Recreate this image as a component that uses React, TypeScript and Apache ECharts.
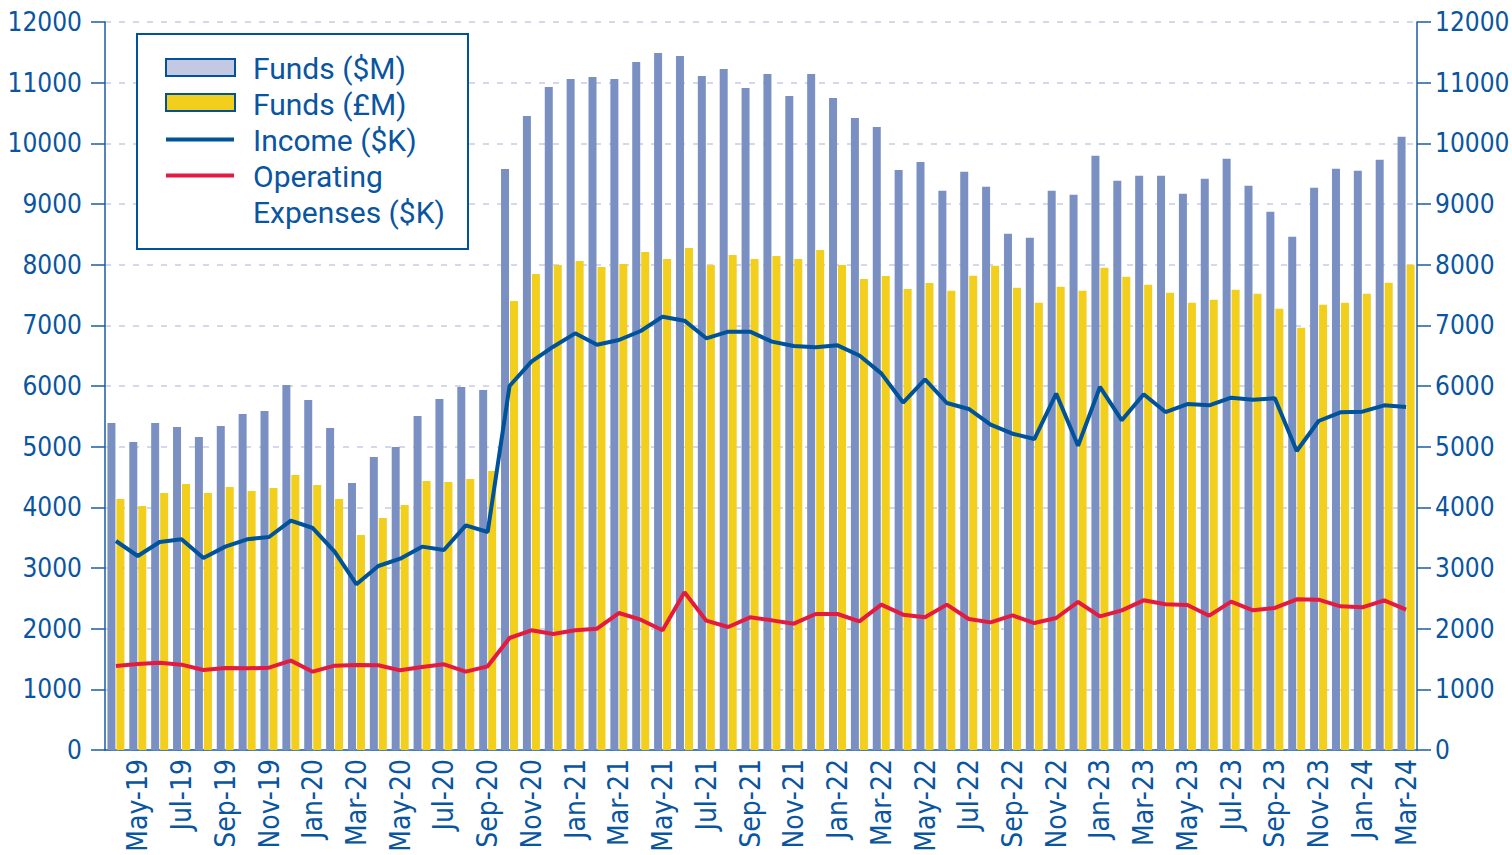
import React, { useEffect, useRef } from "react";
import * as echarts from "echarts";

const months = [
  "Apr-19","May-19","Jun-19","Jul-19","Aug-19","Sep-19","Oct-19","Nov-19","Dec-19",
  "Jan-20","Feb-20","Mar-20","Apr-20","May-20","Jun-20","Jul-20","Aug-20","Sep-20","Oct-20","Nov-20","Dec-20",
  "Jan-21","Feb-21","Mar-21","Apr-21","May-21","Jun-21","Jul-21","Aug-21","Sep-21","Oct-21","Nov-21","Dec-21",
  "Jan-22","Feb-22","Mar-22","Apr-22","May-22","Jun-22","Jul-22","Aug-22","Sep-22","Oct-22","Nov-22","Dec-22",
  "Jan-23","Feb-23","Mar-23","Apr-23","May-23","Jun-23","Jul-23","Aug-23","Sep-23","Oct-23","Nov-23","Dec-23",
  "Jan-24","Feb-24","Mar-24",
];

const fundsUSD = [
  5390, 5077, 5390, 5324, 5159, 5341, 5538, 5588, 6016,
  5769, 5308, 4401, 4830, 4995, 5505, 5786, 5984, 5934, 9577, 10451, 10929,
  11060, 11093, 11060, 11341, 11489, 11440, 11110, 11225, 10912, 11143, 10780, 11143,
  10747, 10418, 10269, 9560, 9692, 9220, 9533, 9286, 8511, 8445, 9220, 9154,
  9797, 9385, 9467, 9467, 9170, 9418, 9747, 9302, 8874, 8462, 9269, 9582,
  9549, 9731, 10110,
];

const fundsGBP = [
  4137, 4022, 4236, 4385, 4236, 4335, 4269, 4319, 4533,
  4368, 4137, 3544, 3824, 4038, 4434, 4418, 4467, 4599, 7401, 7846, 7995,
  8060, 7962, 8011, 8209, 8093, 8275, 7995, 8159, 8093, 8143, 8093, 8242,
  7995, 7764, 7813, 7599, 7698, 7571, 7819, 7984, 7621, 7374, 7637, 7571,
  7951, 7802, 7670, 7538, 7374, 7423, 7588, 7522, 7275, 6962, 7341, 7374,
  7522, 7703, 8000,
];

const income = [
  3445, 3198, 3429, 3473, 3165, 3352, 3473, 3511, 3780,
  3659, 3269, 2731, 3033, 3154, 3352, 3297, 3703, 3593, 6000, 6401, 6648,
  6868, 6681, 6758, 6907, 7143, 7077, 6786, 6896, 6896, 6731, 6659, 6637,
  6670, 6503, 6208, 5727, 6109, 5720, 5621, 5363, 5214, 5126, 5874, 5016,
  5984, 5434, 5863, 5571, 5703, 5681, 5808, 5775, 5797, 4929, 5423, 5566,
  5577, 5681, 5654,
];

const expenses = [
  1385, 1418, 1440, 1407, 1319, 1352, 1346, 1357, 1473,
  1291, 1390, 1401, 1396, 1313, 1368, 1412, 1291, 1379, 1846, 1973, 1912,
  1973, 2000, 2258, 2148, 1973, 2599, 2132, 2027, 2187, 2137, 2082, 2242,
  2242, 2121, 2396, 2231, 2187, 2396, 2159, 2104, 2220, 2093, 2176, 2440,
  2203, 2302, 2467, 2401, 2390, 2214, 2445, 2302, 2341, 2484, 2478, 2368,
  2352, 2467, 2313,
];

const seriesNames = ["Funds ($M)", "Funds (£M)", "Income ($K)", "Operating Expenses ($K)"];
const legendLabels = ["Funds ($M)", "Funds (£M)", "Income ($K)", "Operating", "Expenses ($K)"];

const AXIS_BLUE = "#1A5CA3";
const TEXT_BLUE = "#0A55A0";
const BAR_BLUE = "#7A90C3";
const BAR_YELLOW = "#F2CF1C";
const LINE_BLUE = "#00529B";
const LINE_RED = "#E31B41";
const GRID = "#C8CCE3";
const AXIS_FONT = "'DejaVu Sans Condensed', sans-serif";
const LEGEND_FONT = "Roboto, 'Liberation Sans', sans-serif";

export default function App() {
  const ref = useRef<HTMLDivElement>(null);
  useEffect(() => {
    if (!ref.current) return;
    const chart = echarts.init(ref.current, undefined, { renderer: "svg" });
    const valueAxis = (position: "left" | "right", margin: number) => ({
      type: "value" as const,
      position,
      min: 0,
      max: 12000,
      interval: 1000,
      axisLine: { show: true, lineStyle: { color: AXIS_BLUE, width: 1.5 } },
      axisTick: { show: true, length: 14, lineStyle: { color: AXIS_BLUE, width: 1.5 } },
      axisLabel: {
        color: TEXT_BLUE,
        fontFamily: AXIS_FONT,
        fontSize: 26,
        margin,
        formatter: (v: number) => String(v),
      },
      splitLine: position === "left"
        ? { show: true, lineStyle: { color: GRID, width: 1.5, type: [6, 8] } }
        : { show: false },
    });

    const lx = 137, ly = 34;
    const legendGraphic: any[] = [
      {
        type: "rect",
        shape: { x: lx, y: ly, width: 331, height: 215 },
        style: { fill: "#ffffff", stroke: LINE_BLUE, lineWidth: 2 },
        z: 10,
      },
      {
        type: "rect",
        shape: { x: 166, y: 59, width: 69, height: 17 },
        style: { fill: "#C3C9E3", stroke: LINE_BLUE, lineWidth: 2 },
        z: 11,
      },
      {
        type: "rect",
        shape: { x: 166, y: 94, width: 69, height: 17 },
        style: { fill: BAR_YELLOW, stroke: LINE_BLUE, lineWidth: 2 },
        z: 11,
      },
      {
        type: "line",
        shape: { x1: 166, y1: 139.5, x2: 234, y2: 139.5 },
        style: { stroke: LINE_BLUE, lineWidth: 4 },
        z: 11,
      },
      {
        type: "line",
        shape: { x1: 166, y1: 175.5, x2: 234, y2: 175.5 },
        style: { stroke: LINE_RED, lineWidth: 4 },
        z: 11,
      },
    ];
    const rowY = [68, 104, 140, 176, 212];
    legendLabels.forEach((t, i) => {
      legendGraphic.push({
        type: "text",
        x: 253,
        y: rowY[i],
        style: {
          text: t,
          fill: TEXT_BLUE,
          font: `30px ${LEGEND_FONT}`,
          verticalAlign: "middle",
        },
        z: 12,
      });
    });

    chart.setOption({
      animation: false,
      backgroundColor: "#ffffff",
      grid: {
        left: 105,
        right: 95,
        top: 22,
        bottom: 105,
        containLabel: false,
        outerBoundsMode: "none",
      },
      xAxis: {
        type: "category",
        data: months,
        axisLine: { show: true, lineStyle: { color: AXIS_BLUE, width: 1.5 } },
        axisTick: { show: false },
        axisLabel: {
          color: TEXT_BLUE,
          fontFamily: AXIS_FONT,
          fontSize: 28,
          rotate: 90,
          margin: 9,
          interval: (idx: number) => idx % 2 === 1,
        },
        splitLine: { show: false },
      },
      yAxis: [valueAxis("left", 23), valueAxis("right", 18)],
      series: [
        {
          name: seriesNames[0],
          type: "bar",
          data: fundsUSD,
          barWidth: 8,
          barGap: "12.5%",
          itemStyle: { color: BAR_BLUE },
        },
        {
          name: seriesNames[1],
          type: "bar",
          data: fundsGBP,
          barWidth: 8,
          barGap: "12.5%",
          itemStyle: { color: BAR_YELLOW },
        },
        {
          name: seriesNames[2],
          type: "line",
          data: income,
          symbol: "none",
          lineStyle: { color: LINE_BLUE, width: 4 },
          itemStyle: { color: LINE_BLUE },
          z: 5,
        },
        {
          name: seriesNames[3],
          type: "line",
          data: expenses,
          symbol: "none",
          lineStyle: { color: LINE_RED, width: 4 },
          itemStyle: { color: LINE_RED },
          z: 5,
        },
      ],
      graphic: legendGraphic,
    });
    return () => chart.dispose();
  }, []);
  return (
    <div
      ref={ref}
      style={{ position: "fixed", left: 0, top: 0, width: 1512, height: 855 }}
    />
  );
}
